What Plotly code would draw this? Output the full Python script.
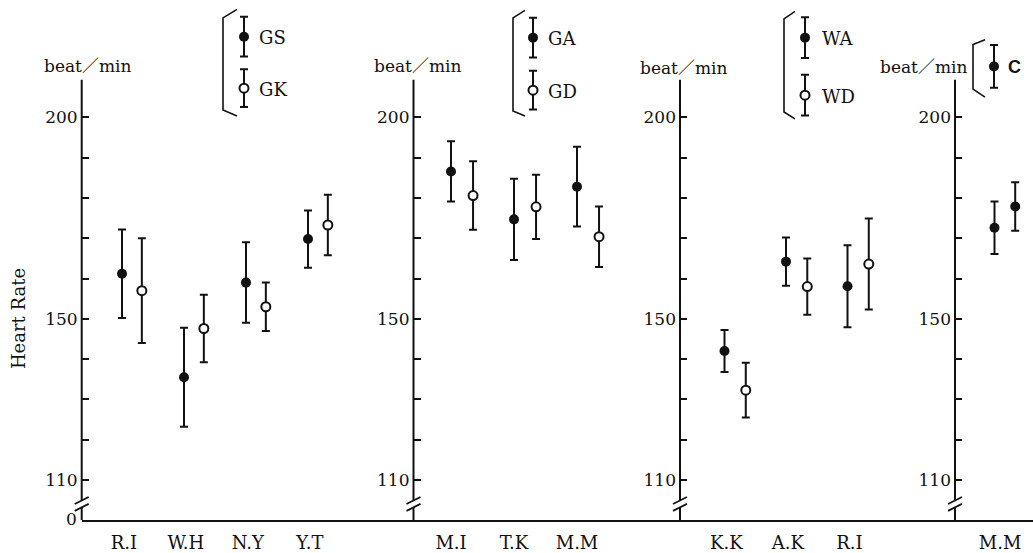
import plotly.graph_objects as go

W, H = 1033, 553

# ---------------- data (beat/min, mean and error) ----------------
groups1 = ["R.I", "W.H", "N.Y", "Y.T"]
gs_mean = [161.2, 135.5, 159.0, 169.8]
gs_err = [11.0, 12.3, 10.0, 7.1]
gk_mean = [157.0, 147.6, 153.0, 173.3]
gk_err = [13.0, 8.4, 6.0, 7.5]

groups2 = ["M.I", "T.K", "M.M"]
ga_mean = [186.6, 174.7, 182.8]
ga_err = [7.5, 10.1, 9.9]
gd_mean = [180.6, 177.8, 170.4]
gd_err = [8.5, 8.0, 7.5]

groups3 = ["K.K", "A.K", "R.I"]
wa_mean = [142.0, 164.2, 158.1]
wa_err = [5.2, 6.0, 10.2]
wd_mean = [132.3, 158.0, 163.6]
wd_err = [6.8, 7.0, 11.3]

groups4 = ["M.M"]
c1_mean = [172.6]
c1_err = [6.5]
c2_mean = [177.9]
c2_err = [6.0]

y_tick_values = [110, 120, 130, 140, 150, 160, 170, 180, 190, 200]
y_tick_labels = ["110", "", "", "", "150", "", "", "", "", "200"]

legend_names = [["GS", "GK"], ["GA", "GD"], ["WA", "WD"], ["C"]]

# ---------------- layout helpers (pixel geometry) ----------------
INK = "#111111"
SERIF = "DejaVu Serif, Noto Sans CJK JP, serif"
Y_BOTTOM_PX, Y_TOP_PX = 525, 80.3
Y_RANGE = [100, 209.4]


def px(x):
    return x / W


def py(y):
    return 1 - y / H


panels = [
    dict(cats=groups1, series=[(gs_mean, gs_err, True), (gk_mean, gk_err, False)],
         x0=81.7, x1=413.5, first=122, step=62, off=0.32, lab=0.03),
    dict(cats=groups2, series=[(ga_mean, ga_err, True), (gd_mean, gd_err, False)],
         x0=413.5, x1=680, first=451, step=63, off=0.35, lab=0.0),
    dict(cats=groups3, series=[(wa_mean, wa_err, True), (wd_mean, wd_err, False)],
         x0=680, x1=955, first=724.5, step=61.5, off=0.346, lab=0.03),
    dict(cats=groups4, series=[(c1_mean, c1_err, True), (c2_mean, c2_err, True)],
         x0=955, x1=1033, first=994.5, step=62, off=0.334, lab=0.09),
]

FILLED_SIZE, OPEN_SIZE = 10, 9
ERR_W = 2.0

fig = go.Figure()
shapes = []
annotations = []

for i, p in enumerate(panels, start=1):
    xa = "x" if i == 1 else f"x{i}"
    ya = "y" if i == 1 else f"y{i}"
    n = len(p["cats"])
    for k, (means, errs, filled) in enumerate(p["series"]):
        xs = [j + k * p["off"] for j in range(n)]
        fig.add_trace(go.Scatter(
            x=xs, y=means, mode="markers", xaxis=xa, yaxis=ya,
            marker=dict(size=FILLED_SIZE if filled else OPEN_SIZE,
                        color=INK if filled else "white",
                        line=dict(color=INK, width=0 if filled else 2)),
            error_y=dict(type="data", array=errs, visible=True,
                         thickness=ERR_W, width=4, color=INK),
            showlegend=False, hoverinfo="skip", cliponaxis=False))
    xr = [(p["x0"] - p["first"]) / p["step"], (p["x1"] - p["first"]) / p["step"]]
    fig.update_layout(**{
        ("xaxis" if i == 1 else f"xaxis{i}"): dict(
            domain=[px(p["x0"]), px(p["x1"])], range=xr, anchor=ya,
            showline=True, linecolor=INK, linewidth=2, ticks="",
            tickvals=[j + p["lab"] for j in range(n)], ticktext=p["cats"],
            showgrid=False, zeroline=False, fixedrange=True,
            tickfont=dict(family=SERIF, size=18, color=INK),
            ticklabelstandoff=5),
        ("yaxis" if i == 1 else f"yaxis{i}"): dict(
            domain=[py(Y_BOTTOM_PX), py(Y_TOP_PX)], range=Y_RANGE, anchor=xa,
            showline=False, showgrid=False, zeroline=False, fixedrange=True,
            ticks="inside", ticklen=7, tickwidth=1.8, tickcolor=INK,
            tickvals=y_tick_values, ticktext=y_tick_labels,
            tickfont=dict(family=SERIF, size=17, color=INK),
            ticklabelstandoff=3),
    })
    # vertical axis line with a break
    for (a, b) in [(100, 103.2), (104.9, Y_RANGE[1])]:
        shapes.append(dict(type="line", xref=f"{xa} domain", yref=ya, x0=0, x1=0,
                           y0=a, y1=b, line=dict(color=INK, width=2)))
    for yb in (103.2, 104.9):
        shapes.append(dict(type="line", xref=f"{xa} domain", yref=ya,
                           xsizemode="pixel", xanchor=0, x0=-7, x1=7,
                           ysizemode="pixel", yanchor=yb, y0=-3.5, y1=3.5,
                           line=dict(color=INK, width=1.8)))

# unit labels
for (cx, cy) in [(87, 67), (417, 67), (683, 69), (923, 68)]:
    annotations.append(dict(xref="paper", yref="paper", x=px(cx), y=py(cy),
                            text="beat／min", showarrow=False,
                            font=dict(family=SERIF, size=17, color=INK),
                            xanchor="center", yanchor="middle"))
annotations.append(dict(xref="paper", yref="paper", x=px(18), y=py(322),
                        text="Heart Rate", textangle=-90, showarrow=False,
                        font=dict(family=SERIF, size=18, color=INK),
                        xanchor="center", yanchor="middle"))
annotations.append(dict(xref="paper", yref="paper", x=px(79), y=py(524),
                        text="0", showarrow=False,
                        font=dict(family=SERIF, size=17, color=INK),
                        xanchor="right", yanchor="middle"))

# ---------------- bracket legends (overlay pixel axes) ----------------
leg_items = [
    # (marker x, marker y, err, filled, text x, name)
    (244, 37, 20, True, 257, legend_names[0][0]),
    (244, 89, 19, False, 257, legend_names[0][1]),
    (533, 38, 20, True, 546, legend_names[1][0]),
    (533, 91, 19.5, False, 546, legend_names[1][1]),
    (805, 38, 20.5, True, 820, legend_names[2][0]),
    (805, 96, 20.5, False, 820, legend_names[2][1]),
    (994, 67, 21.5, True, 1006, legend_names[3][0]),
]
for (mx, my, e, filled, tx, name) in leg_items:
    fig.add_trace(go.Scatter(
        x=[mx], y=[my], mode="markers", xaxis="x5", yaxis="y5",
        marker=dict(size=FILLED_SIZE if filled else OPEN_SIZE,
                    color=INK if filled else "white",
                    line=dict(color=INK, width=0 if filled else 2)),
        error_y=dict(type="data", array=[e], visible=True, thickness=ERR_W,
                     width=4, color=INK),
        showlegend=False, hoverinfo="skip", cliponaxis=False))
    if name == "C":
        annotations.append(dict(xref="x5", yref="y5", x=tx, y=my + 1,
                                text="<b>C</b>", showarrow=False,
                                font=dict(family="Liberation Sans, Arial, sans-serif",
                                          size=18, color=INK),
                                xanchor="left", yanchor="middle"))
    else:
        annotations.append(dict(xref="x5", yref="y5", x=tx, y=my + 1,
                                text=name, showarrow=False,
                                font=dict(family=SERIF, size=18, color=INK),
                                xanchor="left", yanchor="middle"))

brackets = [
    (223, 237, 9.5, 18, 111, 117),
    (513, 525, 10.5, 18, 112, 117),
    (784, 795, 11.5, 19, 113, 120),
    (973, 985, 40, 45, 90, 98),
]
for (bx, ex, ty, vy0, vy1, by) in brackets:
    shapes.append(dict(type="path", xref="x5", yref="y5",
                       path=f"M {ex} {ty} L {bx} {vy0} L {bx} {vy1} L {ex} {by}",
                       line=dict(color=INK, width=1.6)))

fig.update_layout(
    xaxis5=dict(domain=[0, 1], range=[0, W], visible=False, fixedrange=True, anchor="y5"),
    yaxis5=dict(domain=[0, 1], range=[H, 0], visible=False, fixedrange=True, anchor="x5"),
    width=W, height=H, margin=dict(l=0, r=0, t=0, b=0),
    paper_bgcolor="white", plot_bgcolor="rgba(0,0,0,0)",
    showlegend=False, shapes=shapes, annotations=annotations,
)

fig.write_html("out.html")
